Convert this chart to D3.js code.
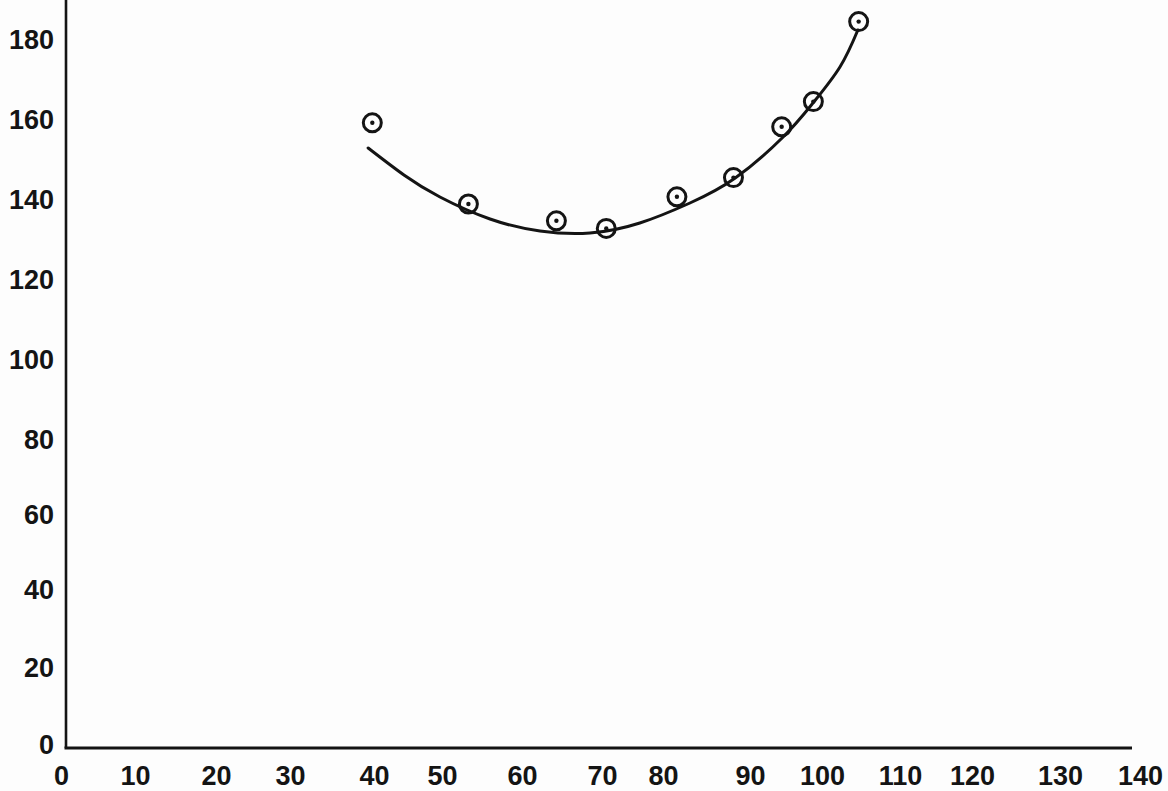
<!DOCTYPE html>
<html>
<head>
<meta charset="utf-8">
<script src="https://cdn.jsdelivr.net/npm/d3@7"></script>
<style>
  html, body { margin: 0; padding: 0; background: #fdfdfd; }
  svg { display: block; }
  .tick text { font-family: "Liberation Sans", Arial, sans-serif; font-weight: 700; font-size: 27px; fill: #141414; }
</style>
</head>
<body>
<svg id="chart" width="1168" height="791"></svg>
<script>
// Axis tick values
const xTicks = [0, 10, 20, 30, 40, 50, 60, 70, 80, 90, 100, 110, 120, 130, 140];
const yTicks = [0, 20, 40, 60, 80, 100, 120, 140, 160, 180];

// Measured observations (x, y)
const obsX = [39.8, 53.3, 64.3, 70.7, 81.6, 88.1, 94.4, 98.8, 104.7];
const obsY = [159.3, 139.0, 134.8, 132.9, 140.8, 145.6, 158.3, 164.6, 184.6];

// Smoothed fit curve, read at intervals along its length
const fitX = [39.3, 44.4, 49.7, 56.0, 62.25, 68.5, 76.2, 83.1, 88.3, 94.6, 98.75, 102.3, 104.6];
const fitY = [153.0, 146.25, 140.75, 135.25, 132.25, 131.75, 134.25, 139.25, 145.5, 155.75, 164.25, 173.25, 182.5];

// Layout: the graph paper's hand-set tick placement (pixel centres)
const xTickPx = [61, 135, 216, 290, 374, 442, 522, 602, 663, 750, 822, 900, 972, 1060, 1140];
const yTickPx = [745, 668, 590, 515, 440, 360, 280, 200, 120, 40];
const frame = { left: 66, bottom: 748, right: 1132, top: 0 };

const svg = d3.select("#chart");
const ink = "#141414";

const x = d3.scaleLinear().domain(xTicks).range(xTickPx);
const y = d3.scaleLinear().domain(yTicks).range(yTickPx);

// Axis lines
svg.append("line")
  .attr("x1", frame.left).attr("x2", frame.left)
  .attr("y1", frame.top).attr("y2", frame.bottom)
  .attr("stroke", ink).attr("stroke-width", 2.6);
svg.append("line")
  .attr("x1", frame.left - 1.5).attr("x2", frame.right)
  .attr("y1", frame.bottom).attr("y2", frame.bottom)
  .attr("stroke", ink).attr("stroke-width", 3);

// Tick labels
const gx = svg.append("g")
  .attr("transform", `translate(0,${frame.bottom})`)
  .call(d3.axisBottom(x).tickValues(xTicks).tickSize(0).tickPadding(18).tickFormat(d3.format("d")));
gx.select(".domain").remove();

const gy = svg.append("g")
  .attr("transform", `translate(${frame.left},0)`)
  .call(d3.axisLeft(y).tickValues(yTicks).tickSize(0).tickPadding(12).tickFormat(d3.format("d")));
gy.select(".domain").remove();

// Fit curve
const fit = fitX.map((v, i) => [v, fitY[i]]);
svg.append("path")
  .datum(fit)
  .attr("fill", "none")
  .attr("stroke", ink)
  .attr("stroke-width", 3)
  .attr("stroke-linecap", "round")
  .attr("d", d3.line().x(d => x(d[0])).y(d => y(d[1])).curve(d3.curveNatural));

// Observation markers: open circle with centre dot
const obs = obsX.map((v, i) => [v, obsY[i]]);
const marks = svg.append("g").selectAll("g").data(obs).join("g")
  .attr("transform", d => `translate(${x(d[0])},${y(d[1])})`);
marks.append("circle").attr("r", 9).attr("fill", "none").attr("stroke", ink).attr("stroke-width", 3);
marks.append("circle").attr("r", 2.2).attr("fill", ink);
</script>
</body>
</html>
